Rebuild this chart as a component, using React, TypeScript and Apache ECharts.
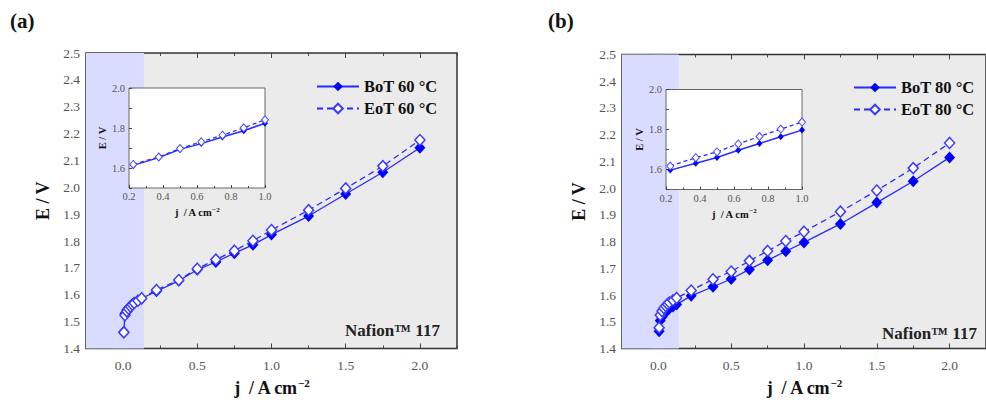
import React, { useEffect, useRef } from "react";
import * as echarts from "echarts";

const J = [0.005, 0.0125, 0.025, 0.0375, 0.05, 0.0625, 0.075, 0.1, 0.125, 0.225, 0.375, 0.5, 0.625, 0.75, 0.875, 1.0, 1.25, 1.5, 1.75, 2.0];
const BOT60 = [1.462, 1.530, 1.543, 1.552, 1.559, 1.565, 1.570, 1.578, 1.586, 1.613, 1.652, 1.693, 1.722, 1.755, 1.786, 1.824, 1.893, 1.975, 2.056, 2.147];
const EOT60 = [1.460, 1.524, 1.538, 1.548, 1.556, 1.563, 1.569, 1.578, 1.587, 1.618, 1.655, 1.697, 1.731, 1.764, 1.801, 1.841, 1.915, 1.996, 2.079, 2.176];
const BOT80 = [1.465, 1.505, 1.518, 1.528, 1.537, 1.544, 1.550, 1.557, 1.565, 1.597, 1.631, 1.660, 1.696, 1.730, 1.764, 1.797, 1.866, 1.946, 2.026, 2.115];
const EOT80 = [1.478, 1.525, 1.540, 1.551, 1.559, 1.566, 1.572, 1.580, 1.589, 1.617, 1.659, 1.688, 1.728, 1.765, 1.802, 1.837, 1.912, 1.991, 2.075, 2.169];

const X_MAJOR = [0, 0.5, 1.0, 1.5, 2.0];
const X_MINOR = [-0.25, 0.25, 0.75, 1.25, 1.75, 2.25];
const LOW_REGION = [-0.25, 0.14];
const INSET_RANGE = [0.2, 1.0];

const PANELS = [
  { label: "(a)", bot: BOT60, eot: EOT60, botName: "BoT 60 °C", eotName: "EoT 60 °C" },
  { label: "(b)", bot: BOT80, eot: EOT80, botName: "BoT 80 °C", eotName: "EoT 80 °C" },
];

const FONT = "'Liberation Serif', 'DejaVu Serif', serif";
const BLUE = "#0000ff";
const LINE_BLUE = "#2a2aff";

export default function App() {
  const ref = useRef<HTMLDivElement>(null);
  useEffect(() => {
    document.body.style.margin = "0";
    const chart = echarts.init(ref.current!, undefined, { renderer: "svg" });

    const layout = [
      { main: { left: 86, top: 53, width: 371, height: 300 }, inset: { left: 129, top: 88, width: 136, height: 100 }, legendLeft: 311, legendTop: 73, labelX: 10, nafionX: 345, nafionY: 330 },
      { main: { left: 622, top: 54.5, width: 372, height: 300 }, inset: { left: 666, top: 89.5, width: 136, height: 100 }, legendLeft: 848, legendTop: 74, labelX: 548, nafionX: 882, nafionY: 333 },
    ];

    const grids: any[] = [];
    const xAxes: any[] = [];
    const yAxes: any[] = [];
    const series: any[] = [];
    const legends: any[] = [];
    const graphics: any[] = [];

    const tickStyle = { color: "#444", width: 1 };
    const labelStyle = { color: "#555", fontFamily: FONT, fontSize: 13.5 };
    const supRich = {
      sup: { fontSize: 11, fontWeight: "bold", fontFamily: FONT, color: "#111", verticalAlign: "top", padding: [0, 0, 10, 0] },
    };

    PANELS.forEach((p, pi) => {
      const L = layout[pi];
      const gMain = grids.length;
      grids.push({ ...L.main, show: true, backgroundColor: "#ebebeb", borderColor: "#333", borderWidth: 1.5, z: 0 });
      const gInset = grids.length;
      grids.push({ ...L.inset, show: true, backgroundColor: "#ffffff", borderColor: "#666", borderWidth: 1, z: 5 });

      const xBase = { type: "value", gridIndex: gMain, min: -0.25, max: 2.25, splitLine: { show: false }, axisLine: { show: false } };
      const xMain = xAxes.length;
      xAxes.push({
        ...xBase,
        position: "bottom",
        axisTick: { inside: true, length: 5, lineStyle: tickStyle, customValues: X_MAJOR },
        axisLabel: { customValues: X_MAJOR, formatter: (v: number) => v.toFixed(1), margin: 10, ...labelStyle },
        name: "j  / A cm{sup|−2}",
        nameLocation: "middle",
        nameGap: 29,
        nameTextStyle: { fontFamily: FONT, fontWeight: "bold", fontSize: 18, color: "#111", rich: supRich },
      });
      xAxes.push({ ...xBase, position: "bottom", axisTick: { inside: true, length: 3, lineStyle: tickStyle, customValues: X_MINOR }, axisLabel: { show: false } });
      xAxes.push({ ...xBase, position: "top", axisTick: { inside: true, length: 5, lineStyle: tickStyle, customValues: X_MAJOR }, axisLabel: { show: false } });
      xAxes.push({ ...xBase, position: "top", axisTick: { inside: true, length: 3, lineStyle: tickStyle, customValues: X_MINOR }, axisLabel: { show: false } });

      const yBase = {
        type: "value", gridIndex: gMain, min: 1.4, max: 2.5, interval: 0.1,
        splitLine: { show: false }, axisLine: { show: false },
        axisTick: { inside: true, length: 5, lineStyle: tickStyle },
        minorTick: { show: true, splitNumber: 2, length: 3, lineStyle: tickStyle },
      };
      const yMain = yAxes.length;
      yAxes.push({
        ...yBase,
        position: "left",
        axisLabel: { formatter: (v: number) => v.toFixed(1), margin: 6, ...labelStyle },
        name: "E / V",
        nameLocation: "middle",
        nameGap: 34,
        nameTextStyle: { fontFamily: FONT, fontWeight: "bold", fontSize: 18, color: "#111" },
      });
      yAxes.push({ ...yBase, position: "right", axisLabel: { show: false } });

      const xIn = xAxes.length;
      xAxes.push({
        type: "value", gridIndex: gInset, min: 0.2, max: 1.0, interval: 0.2,
        splitLine: { show: false }, axisLine: { show: false },
        axisTick: { inside: true, length: 3, lineStyle: tickStyle },
        minorTick: { show: true, splitNumber: 2, length: 2, lineStyle: tickStyle },
        axisLabel: { formatter: (v: number) => v.toFixed(1), margin: 3, color: "#555", fontFamily: FONT, fontSize: 10.5 },
        name: "j  / A cm{sup|−2}",
        nameLocation: "middle",
        nameGap: 18,
        nameTextStyle: {
          fontFamily: FONT, fontWeight: "bold", fontSize: 10.5, color: "#111",
          rich: { sup: { fontSize: 7, fontWeight: "bold", fontFamily: FONT, color: "#111", padding: [0, 0, 6, 0] } },
        },
        z: 6,
      });
      const yIn = yAxes.length;
      yAxes.push({
        type: "value", gridIndex: gInset, min: 1.5, max: 2.0, interval: 0.1,
        splitLine: { show: false }, axisLine: { show: false },
        axisTick: { inside: true, length: 3, lineStyle: tickStyle },
        axisLabel: {
          formatter: (v: number) => (Math.round(v * 10) % 2 === 0 ? v.toFixed(1) : ""),
          margin: 4, color: "#555", fontFamily: FONT, fontSize: 10.5,
        },
        name: "E / V",
        nameLocation: "middle",
        nameGap: 18,
        nameTextStyle: { fontFamily: FONT, fontWeight: "bold", fontSize: 10.5, color: "#111" },
        z: 6,
      });

      const botData = J.map((j, i) => [j, p.bot[i]]);
      const eotData = J.map((j, i) => [j, p.eot[i]]);
      const inBot = botData.filter((d) => d[0] >= INSET_RANGE[0] && d[0] <= INSET_RANGE[1]);
      const inEot = eotData.filter((d) => d[0] >= INSET_RANGE[0] && d[0] <= INSET_RANGE[1]);

      series.push({
        type: "line", name: p.botName, xAxisIndex: xMain, yAxisIndex: yMain, data: botData,
        symbol: "diamond", symbolSize: [11, 12], z: 3,
        lineStyle: { color: LINE_BLUE, width: 1.3 },
        itemStyle: { color: BLUE, borderColor: BLUE, borderWidth: 0 },
        markArea: {
          silent: true,
          itemStyle: { color: "#dadcff", opacity: 1 },
          data: [[{ xAxis: LOW_REGION[0] }, { xAxis: LOW_REGION[1] }]],
        },
      });
      series.push({
        type: "line", name: p.eotName, xAxisIndex: xMain, yAxisIndex: yMain, data: eotData,
        symbol: "diamond", symbolSize: [10, 11], z: 4,
        lineStyle: { color: LINE_BLUE, width: 1.3, type: [6, 4] },
        itemStyle: { color: "#ffffff", borderColor: "#3a3aff", borderWidth: 1.5 },
      });
      series.push({
        type: "line", name: p.botName, xAxisIndex: xIn, yAxisIndex: yIn, data: inBot,
        symbol: "diamond", symbolSize: [6, 7], z: 7, clip: false,
        lineStyle: { color: LINE_BLUE, width: 1.5 },
        itemStyle: { color: BLUE, borderWidth: 0 },
      });
      series.push({
        type: "line", name: p.eotName, xAxisIndex: xIn, yAxisIndex: yIn, data: inEot,
        symbol: "diamond", symbolSize: [7, 8], z: 8, clip: false,
        lineStyle: { color: LINE_BLUE, width: 1.3, type: [4, 3] },
        itemStyle: { color: "#ffffff", borderColor: "#4a4aff", borderWidth: 1 },
      });

      legends.push({
        data: [p.botName, p.eotName],
        orient: "vertical",
        left: L.legendLeft,
        top: L.legendTop,
        itemWidth: 42,
        itemHeight: 12,
        itemGap: 5,
        selectedMode: false,
        textStyle: { fontFamily: FONT, fontWeight: "bold", fontSize: 16.5, color: "#111" },
      });

      graphics.push({
        type: "text", left: L.labelX, top: 10,
        style: { text: p.label, fontFamily: FONT, fontWeight: "bold", fontSize: 21, fill: "#111" },
      });
      graphics.push({
        type: "text", x: L.nafionX, y: L.nafionY,
        style: { text: "Nafion™ 117", fontFamily: FONT, fontWeight: "bold", fontSize: 17, fill: "#222", verticalAlign: "middle" },
        z: 10,
      });
    });

    chart.setOption({
      animation: false,
      backgroundColor: "#ffffff",
      grid: grids,
      xAxis: xAxes,
      yAxis: yAxes,
      series,
      legend: legends,
      graphic: graphics,
    });
    return () => chart.dispose();
  }, []);
  return <div ref={ref} style={{ position: "absolute", left: 0, top: 0, width: 986, height: 402 }} />;
}
